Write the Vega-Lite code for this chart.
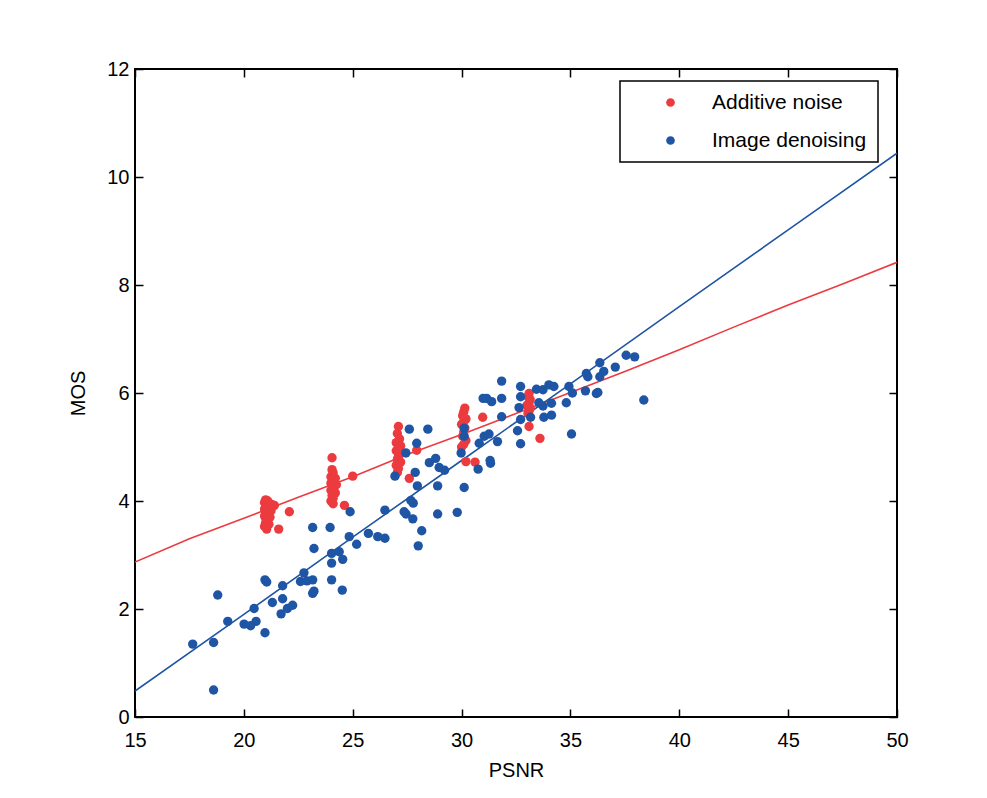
{
  "$schema": "https://vega.github.io/schema/vega-lite/v6.json",
  "width": 762,
  "height": 648,
  "autosize": {"type": "none"},
  "padding": {"left": 135, "top": 69, "right": 90, "bottom": 81},
  "background": "white",
  "config": {
    "font": "Liberation Sans",
    "view": {"stroke": "black", "strokeWidth": 2},
    "axis": {
      "domain": false,
      "grid": false,
      "ticks": true,
      "tickColor": "black",
      "tickSize": -8,
      "tickWidth": 1.5,
      "labelFontSize": 20,
      "labelColor": "black",
      "labelFont": "Liberation Sans",
      "labelFlush": false,
      "labelOverlap": false,
      "titleFont": "Liberation Sans",
      "titleFontSize": 20,
      "titleFontWeight": "normal",
      "titleColor": "black"
    },
    "legend": {
      "orient": "none",
      "legendX": 485,
      "legendY": 12,
      "strokeColor": "black",
      "strokeWidth": 1.5,
      "fillColor": "white",
      "padding": 11,
      "labelFontSize": 21,
      "labelColor": "black",
      "labelFont": "Liberation Sans",
      "symbolType": "circle",
      "symbolSize": 75,
      "symbolStrokeWidth": 0,
      "rowPadding": 16,
      "symbolOffset": 29,
      "labelOffset": 31,
      "title": null
    }
  },
  "datasets": {
    "fits": [
      {"PSNR": 15, "MOS": 2.87, "type": "Additive noise"},
      {"PSNR": 17.5, "MOS": 3.3, "type": "Additive noise"},
      {"PSNR": 20, "MOS": 3.68, "type": "Additive noise"},
      {"PSNR": 22.5, "MOS": 4.07, "type": "Additive noise"},
      {"PSNR": 25, "MOS": 4.45, "type": "Additive noise"},
      {"PSNR": 27.5, "MOS": 4.86, "type": "Additive noise"},
      {"PSNR": 30, "MOS": 5.23, "type": "Additive noise"},
      {"PSNR": 32.5, "MOS": 5.62, "type": "Additive noise"},
      {"PSNR": 35, "MOS": 6.01, "type": "Additive noise"},
      {"PSNR": 37.5, "MOS": 6.4, "type": "Additive noise"},
      {"PSNR": 40, "MOS": 6.8, "type": "Additive noise"},
      {"PSNR": 42.5, "MOS": 7.22, "type": "Additive noise"},
      {"PSNR": 45, "MOS": 7.63, "type": "Additive noise"},
      {"PSNR": 47.5, "MOS": 8.02, "type": "Additive noise"},
      {"PSNR": 50, "MOS": 8.42, "type": "Additive noise"},
      {"PSNR": 15, "MOS": 0.48, "type": "Image denoising"},
      {"PSNR": 20, "MOS": 1.9, "type": "Image denoising"},
      {"PSNR": 25, "MOS": 3.33, "type": "Image denoising"},
      {"PSNR": 30, "MOS": 4.75, "type": "Image denoising"},
      {"PSNR": 35, "MOS": 6.17, "type": "Image denoising"},
      {"PSNR": 40, "MOS": 7.6, "type": "Image denoising"},
      {"PSNR": 45, "MOS": 9.02, "type": "Image denoising"},
      {"PSNR": 50, "MOS": 10.44, "type": "Image denoising"}
    ],
    "points": [
      {"PSNR": 21.0, "MOS": 4.02, "type": "Additive noise"},
      {"PSNR": 21.1, "MOS": 4.0, "type": "Additive noise"},
      {"PSNR": 20.95, "MOS": 3.97, "type": "Additive noise"},
      {"PSNR": 21.2, "MOS": 3.95, "type": "Additive noise"},
      {"PSNR": 21.3, "MOS": 3.93, "type": "Additive noise"},
      {"PSNR": 21.05, "MOS": 3.9, "type": "Additive noise"},
      {"PSNR": 21.15, "MOS": 3.88, "type": "Additive noise"},
      {"PSNR": 20.95, "MOS": 3.85, "type": "Additive noise"},
      {"PSNR": 21.25, "MOS": 3.82, "type": "Additive noise"},
      {"PSNR": 21.0, "MOS": 3.8, "type": "Additive noise"},
      {"PSNR": 21.1, "MOS": 3.75, "type": "Additive noise"},
      {"PSNR": 20.95, "MOS": 3.72, "type": "Additive noise"},
      {"PSNR": 21.2, "MOS": 3.7, "type": "Additive noise"},
      {"PSNR": 21.05, "MOS": 3.65, "type": "Additive noise"},
      {"PSNR": 21.0, "MOS": 3.6, "type": "Additive noise"},
      {"PSNR": 21.15, "MOS": 3.57, "type": "Additive noise"},
      {"PSNR": 20.95, "MOS": 3.53, "type": "Additive noise"},
      {"PSNR": 21.05, "MOS": 3.48, "type": "Additive noise"},
      {"PSNR": 21.6, "MOS": 3.48, "type": "Additive noise"},
      {"PSNR": 22.09, "MOS": 3.8, "type": "Additive noise"},
      {"PSNR": 21.4, "MOS": 3.92, "type": "Additive noise"},
      {"PSNR": 24.05, "MOS": 4.8, "type": "Additive noise"},
      {"PSNR": 24.05, "MOS": 4.58, "type": "Additive noise"},
      {"PSNR": 24.1, "MOS": 4.52, "type": "Additive noise"},
      {"PSNR": 24.0, "MOS": 4.45, "type": "Additive noise"},
      {"PSNR": 24.2, "MOS": 4.42, "type": "Additive noise"},
      {"PSNR": 24.1, "MOS": 4.38, "type": "Additive noise"},
      {"PSNR": 24.0, "MOS": 4.33, "type": "Additive noise"},
      {"PSNR": 24.25, "MOS": 4.3, "type": "Additive noise"},
      {"PSNR": 24.1, "MOS": 4.25, "type": "Additive noise"},
      {"PSNR": 24.0, "MOS": 4.2, "type": "Additive noise"},
      {"PSNR": 24.2, "MOS": 4.15, "type": "Additive noise"},
      {"PSNR": 24.05, "MOS": 4.1, "type": "Additive noise"},
      {"PSNR": 24.1, "MOS": 4.05, "type": "Additive noise"},
      {"PSNR": 24.0, "MOS": 4.0, "type": "Additive noise"},
      {"PSNR": 24.1, "MOS": 3.95, "type": "Additive noise"},
      {"PSNR": 24.62, "MOS": 3.92, "type": "Additive noise"},
      {"PSNR": 25.0, "MOS": 4.46, "type": "Additive noise"},
      {"PSNR": 27.1, "MOS": 5.38, "type": "Additive noise"},
      {"PSNR": 27.05, "MOS": 5.25, "type": "Additive noise"},
      {"PSNR": 27.15, "MOS": 5.15, "type": "Additive noise"},
      {"PSNR": 27.0, "MOS": 5.08, "type": "Additive noise"},
      {"PSNR": 27.2, "MOS": 5.02, "type": "Additive noise"},
      {"PSNR": 27.1, "MOS": 4.98, "type": "Additive noise"},
      {"PSNR": 27.0, "MOS": 4.93, "type": "Additive noise"},
      {"PSNR": 27.15, "MOS": 4.88, "type": "Additive noise"},
      {"PSNR": 27.1, "MOS": 4.82, "type": "Additive noise"},
      {"PSNR": 27.05, "MOS": 4.77, "type": "Additive noise"},
      {"PSNR": 27.2, "MOS": 4.72, "type": "Additive noise"},
      {"PSNR": 27.0, "MOS": 4.66, "type": "Additive noise"},
      {"PSNR": 27.1, "MOS": 4.6, "type": "Additive noise"},
      {"PSNR": 27.05, "MOS": 4.53, "type": "Additive noise"},
      {"PSNR": 27.6, "MOS": 4.42, "type": "Additive noise"},
      {"PSNR": 27.94, "MOS": 4.94, "type": "Additive noise"},
      {"PSNR": 30.15, "MOS": 5.72, "type": "Additive noise"},
      {"PSNR": 30.1, "MOS": 5.65, "type": "Additive noise"},
      {"PSNR": 30.05, "MOS": 5.58, "type": "Additive noise"},
      {"PSNR": 30.2, "MOS": 5.52, "type": "Additive noise"},
      {"PSNR": 30.1, "MOS": 5.47, "type": "Additive noise"},
      {"PSNR": 30.0, "MOS": 5.42, "type": "Additive noise"},
      {"PSNR": 30.15, "MOS": 5.35, "type": "Additive noise"},
      {"PSNR": 30.1, "MOS": 5.28, "type": "Additive noise"},
      {"PSNR": 30.05, "MOS": 5.2, "type": "Additive noise"},
      {"PSNR": 30.2, "MOS": 5.12, "type": "Additive noise"},
      {"PSNR": 30.1, "MOS": 5.05, "type": "Additive noise"},
      {"PSNR": 30.0, "MOS": 5.0, "type": "Additive noise"},
      {"PSNR": 30.2, "MOS": 4.73, "type": "Additive noise"},
      {"PSNR": 30.62, "MOS": 4.72, "type": "Additive noise"},
      {"PSNR": 30.97, "MOS": 5.55, "type": "Additive noise"},
      {"PSNR": 33.1, "MOS": 5.99, "type": "Additive noise"},
      {"PSNR": 33.05, "MOS": 5.93, "type": "Additive noise"},
      {"PSNR": 33.15, "MOS": 5.88, "type": "Additive noise"},
      {"PSNR": 33.1, "MOS": 5.82, "type": "Additive noise"},
      {"PSNR": 33.0, "MOS": 5.77, "type": "Additive noise"},
      {"PSNR": 33.15, "MOS": 5.72, "type": "Additive noise"},
      {"PSNR": 33.1, "MOS": 5.67, "type": "Additive noise"},
      {"PSNR": 33.05, "MOS": 5.62, "type": "Additive noise"},
      {"PSNR": 33.1, "MOS": 5.38, "type": "Additive noise"},
      {"PSNR": 33.6, "MOS": 5.16, "type": "Additive noise"},
      {"PSNR": 17.65, "MOS": 1.35, "type": "Image denoising"},
      {"PSNR": 18.61, "MOS": 1.38, "type": "Image denoising"},
      {"PSNR": 18.61, "MOS": 0.5, "type": "Image denoising"},
      {"PSNR": 18.8, "MOS": 2.26, "type": "Image denoising"},
      {"PSNR": 19.26, "MOS": 1.77, "type": "Image denoising"},
      {"PSNR": 20.01, "MOS": 1.72, "type": "Image denoising"},
      {"PSNR": 20.31, "MOS": 1.69, "type": "Image denoising"},
      {"PSNR": 20.56, "MOS": 1.77, "type": "Image denoising"},
      {"PSNR": 20.47, "MOS": 2.01, "type": "Image denoising"},
      {"PSNR": 20.97, "MOS": 1.56, "type": "Image denoising"},
      {"PSNR": 20.97, "MOS": 2.54, "type": "Image denoising"},
      {"PSNR": 21.05, "MOS": 2.5, "type": "Image denoising"},
      {"PSNR": 21.31, "MOS": 2.12, "type": "Image denoising"},
      {"PSNR": 21.78, "MOS": 2.43, "type": "Image denoising"},
      {"PSNR": 21.78, "MOS": 2.19, "type": "Image denoising"},
      {"PSNR": 21.71, "MOS": 1.91, "type": "Image denoising"},
      {"PSNR": 22.0, "MOS": 2.01, "type": "Image denoising"},
      {"PSNR": 22.24, "MOS": 2.07, "type": "Image denoising"},
      {"PSNR": 22.6, "MOS": 2.51, "type": "Image denoising"},
      {"PSNR": 22.76, "MOS": 2.67, "type": "Image denoising"},
      {"PSNR": 22.9, "MOS": 2.52, "type": "Image denoising"},
      {"PSNR": 23.16, "MOS": 2.54, "type": "Image denoising"},
      {"PSNR": 23.16, "MOS": 2.29, "type": "Image denoising"},
      {"PSNR": 23.22, "MOS": 2.33, "type": "Image denoising"},
      {"PSNR": 23.22, "MOS": 3.12, "type": "Image denoising"},
      {"PSNR": 23.16, "MOS": 3.51, "type": "Image denoising"},
      {"PSNR": 23.96, "MOS": 3.51, "type": "Image denoising"},
      {"PSNR": 24.03, "MOS": 3.03, "type": "Image denoising"},
      {"PSNR": 24.03, "MOS": 2.85, "type": "Image denoising"},
      {"PSNR": 24.38, "MOS": 3.06, "type": "Image denoising"},
      {"PSNR": 24.54, "MOS": 2.92, "type": "Image denoising"},
      {"PSNR": 24.03, "MOS": 2.54, "type": "Image denoising"},
      {"PSNR": 24.52, "MOS": 2.35, "type": "Image denoising"},
      {"PSNR": 24.88, "MOS": 3.8, "type": "Image denoising"},
      {"PSNR": 24.84, "MOS": 3.34, "type": "Image denoising"},
      {"PSNR": 25.18, "MOS": 3.2, "type": "Image denoising"},
      {"PSNR": 25.72, "MOS": 3.4, "type": "Image denoising"},
      {"PSNR": 26.15, "MOS": 3.34, "type": "Image denoising"},
      {"PSNR": 26.48, "MOS": 3.31, "type": "Image denoising"},
      {"PSNR": 26.48, "MOS": 3.83, "type": "Image denoising"},
      {"PSNR": 27.36, "MOS": 3.8, "type": "Image denoising"},
      {"PSNR": 27.45, "MOS": 3.76, "type": "Image denoising"},
      {"PSNR": 27.76, "MOS": 3.67, "type": "Image denoising"},
      {"PSNR": 27.78, "MOS": 3.96, "type": "Image denoising"},
      {"PSNR": 27.67, "MOS": 4.01, "type": "Image denoising"},
      {"PSNR": 28.17, "MOS": 3.45, "type": "Image denoising"},
      {"PSNR": 28.01, "MOS": 3.17, "type": "Image denoising"},
      {"PSNR": 28.9, "MOS": 3.76, "type": "Image denoising"},
      {"PSNR": 29.8, "MOS": 3.79, "type": "Image denoising"},
      {"PSNR": 28.9, "MOS": 4.28, "type": "Image denoising"},
      {"PSNR": 27.97, "MOS": 4.28, "type": "Image denoising"},
      {"PSNR": 27.87, "MOS": 4.53, "type": "Image denoising"},
      {"PSNR": 26.94, "MOS": 4.46, "type": "Image denoising"},
      {"PSNR": 27.44, "MOS": 4.89, "type": "Image denoising"},
      {"PSNR": 27.94, "MOS": 5.07, "type": "Image denoising"},
      {"PSNR": 27.6, "MOS": 5.33, "type": "Image denoising"},
      {"PSNR": 28.45, "MOS": 5.33, "type": "Image denoising"},
      {"PSNR": 28.52, "MOS": 4.71, "type": "Image denoising"},
      {"PSNR": 28.81, "MOS": 4.79, "type": "Image denoising"},
      {"PSNR": 28.97, "MOS": 4.62, "type": "Image denoising"},
      {"PSNR": 29.22, "MOS": 4.57, "type": "Image denoising"},
      {"PSNR": 29.98, "MOS": 4.89, "type": "Image denoising"},
      {"PSNR": 30.12, "MOS": 5.35, "type": "Image denoising"},
      {"PSNR": 30.12, "MOS": 5.2, "type": "Image denoising"},
      {"PSNR": 30.12, "MOS": 4.25, "type": "Image denoising"},
      {"PSNR": 30.76, "MOS": 4.59, "type": "Image denoising"},
      {"PSNR": 30.81, "MOS": 5.07, "type": "Image denoising"},
      {"PSNR": 31.04, "MOS": 5.2, "type": "Image denoising"},
      {"PSNR": 31.31, "MOS": 4.75, "type": "Image denoising"},
      {"PSNR": 31.33, "MOS": 4.7, "type": "Image denoising"},
      {"PSNR": 31.26, "MOS": 5.24, "type": "Image denoising"},
      {"PSNR": 31.65, "MOS": 5.1, "type": "Image denoising"},
      {"PSNR": 30.99, "MOS": 5.9, "type": "Image denoising"},
      {"PSNR": 31.15, "MOS": 5.9, "type": "Image denoising"},
      {"PSNR": 31.38, "MOS": 5.84, "type": "Image denoising"},
      {"PSNR": 31.84, "MOS": 5.9, "type": "Image denoising"},
      {"PSNR": 31.84, "MOS": 6.22, "type": "Image denoising"},
      {"PSNR": 31.84, "MOS": 5.56, "type": "Image denoising"},
      {"PSNR": 32.57, "MOS": 5.3, "type": "Image denoising"},
      {"PSNR": 32.71, "MOS": 5.06, "type": "Image denoising"},
      {"PSNR": 32.64, "MOS": 5.73, "type": "Image denoising"},
      {"PSNR": 32.71, "MOS": 5.93, "type": "Image denoising"},
      {"PSNR": 32.71, "MOS": 6.12, "type": "Image denoising"},
      {"PSNR": 32.71, "MOS": 5.51, "type": "Image denoising"},
      {"PSNR": 33.17, "MOS": 5.55, "type": "Image denoising"},
      {"PSNR": 33.44, "MOS": 6.07, "type": "Image denoising"},
      {"PSNR": 33.74, "MOS": 6.06, "type": "Image denoising"},
      {"PSNR": 34.01, "MOS": 6.15, "type": "Image denoising"},
      {"PSNR": 34.24, "MOS": 6.12, "type": "Image denoising"},
      {"PSNR": 33.78, "MOS": 5.55, "type": "Image denoising"},
      {"PSNR": 34.13, "MOS": 5.59, "type": "Image denoising"},
      {"PSNR": 33.74, "MOS": 5.76, "type": "Image denoising"},
      {"PSNR": 34.13, "MOS": 5.81, "type": "Image denoising"},
      {"PSNR": 33.55, "MOS": 5.82, "type": "Image denoising"},
      {"PSNR": 34.81, "MOS": 5.82, "type": "Image denoising"},
      {"PSNR": 34.93, "MOS": 6.12, "type": "Image denoising"},
      {"PSNR": 35.09, "MOS": 6.0, "type": "Image denoising"},
      {"PSNR": 35.05, "MOS": 5.24, "type": "Image denoising"},
      {"PSNR": 35.69, "MOS": 6.04, "type": "Image denoising"},
      {"PSNR": 35.73, "MOS": 6.36, "type": "Image denoising"},
      {"PSNR": 35.8, "MOS": 6.3, "type": "Image denoising"},
      {"PSNR": 36.19, "MOS": 5.99, "type": "Image denoising"},
      {"PSNR": 36.26, "MOS": 6.01, "type": "Image denoising"},
      {"PSNR": 36.35, "MOS": 6.56, "type": "Image denoising"},
      {"PSNR": 36.35, "MOS": 6.3, "type": "Image denoising"},
      {"PSNR": 36.53, "MOS": 6.4, "type": "Image denoising"},
      {"PSNR": 37.06, "MOS": 6.48, "type": "Image denoising"},
      {"PSNR": 37.56, "MOS": 6.7, "type": "Image denoising"},
      {"PSNR": 37.95, "MOS": 6.67, "type": "Image denoising"},
      {"PSNR": 38.37, "MOS": 5.87, "type": "Image denoising"}
    ]
  },
  "layer": [
    {
      "data": {"name": "fits"},
      "mark": {"type": "line", "strokeWidth": 1.6, "clip": true},
      "encoding": {
        "x": {"field": "PSNR", "type": "quantitative", "scale": {"domain": [15, 50], "nice": false, "zero": false},
              "axis": {"orient": "bottom", "title": "PSNR", "values": [15, 20, 25, 30, 35, 40, 45, 50], "labelPadding": 21, "titlePadding": 10}},
        "y": {"field": "MOS", "type": "quantitative", "scale": {"domain": [0, 12], "nice": false},
              "axis": {"orient": "left", "title": "MOS", "values": [0, 2, 4, 6, 8, 10, 12], "labelPadding": 14, "titlePadding": 18}},
        "color": {"field": "type", "type": "nominal", "scale": {"domain": ["Additive noise", "Image denoising"], "range": ["#EC3B3F", "#1F55A5"]}, "legend": null},
        "detail": {"field": "type"}
      }
    },
    {
      "data": {"name": "points"},
      "mark": {"type": "circle", "size": 88, "opacity": 1},
      "encoding": {
        "x": {"field": "PSNR", "type": "quantitative", "axis": {"orient": "top", "title": null, "labels": false, "values": [15, 20, 25, 30, 35, 40, 45, 50]}},
        "y": {"field": "MOS", "type": "quantitative", "axis": {"orient": "right", "title": null, "labels": false, "values": [0, 2, 4, 6, 8, 10, 12]}},
        "color": {"field": "type", "type": "nominal", "legend": {"title": null}}
      }
    }
  ],
  "resolve": {"axis": {"x": "independent", "y": "independent"}, "legend": {"color": "independent"}}
}
